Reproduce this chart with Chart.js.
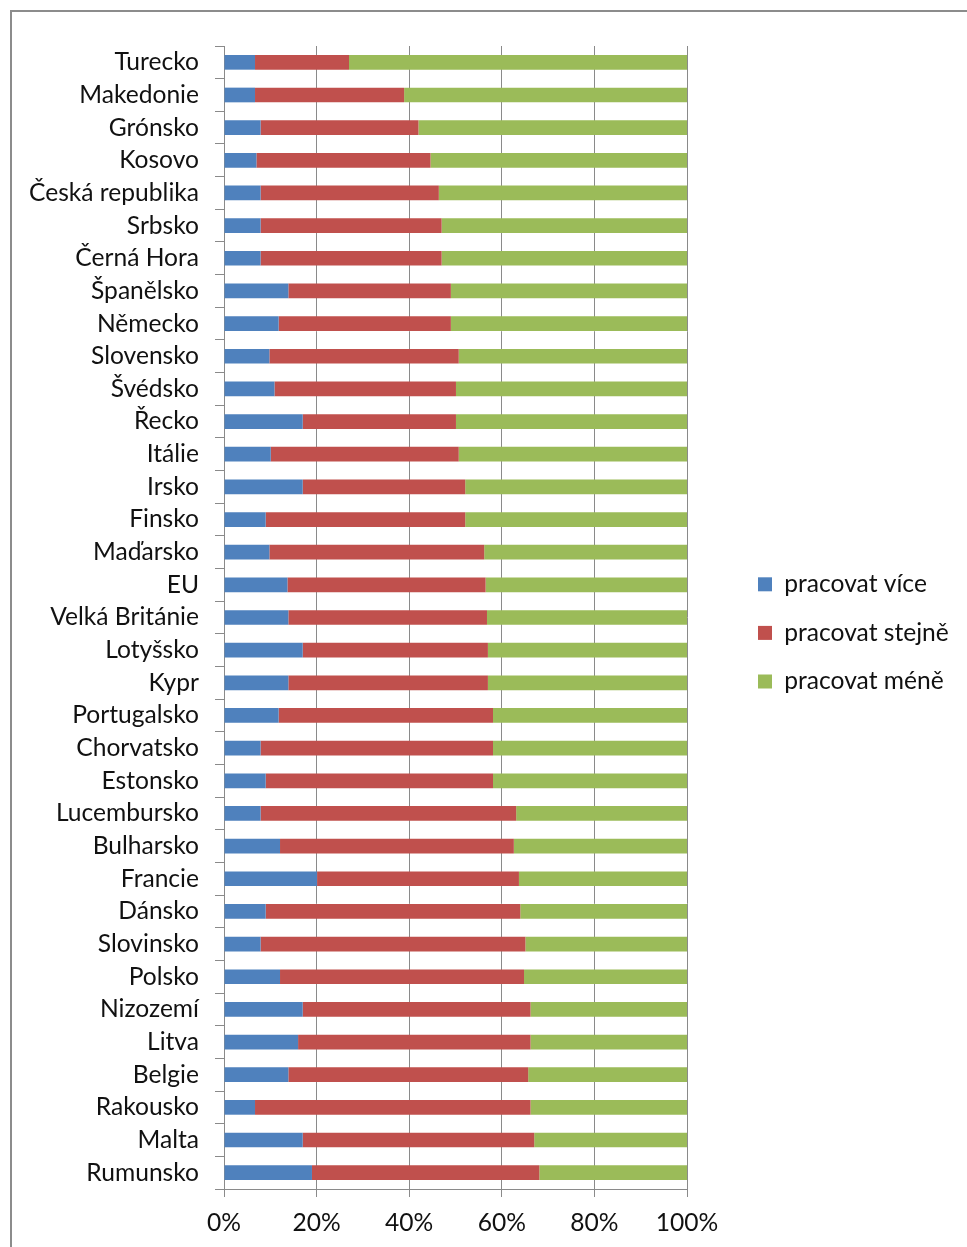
<!DOCTYPE html>
<html>
<head>
<meta charset="utf-8">
<script src="https://cdn.jsdelivr.net/npm/chart.js@4.4.1/dist/chart.umd.min.js"></script>
<style>
  html, body { margin: 0; padding: 0; background: #fff; overflow: hidden; }
  #frame { position: absolute; left: 10px; top: 10px; width: 1000px; height: 1300px; border: 2px solid #8c8c8c; box-sizing: border-box; }
  #wrap { position: absolute; left: 0; top: 0; width: 967px; height: 1247px; }
</style>
</head>
<body>
<div id="frame"></div>
<div id="wrap"><canvas id="c" width="967" height="1247"></canvas></div>
<script>
const categories = ["Turecko","Makedonie","Grónsko","Kosovo","Česká republika","Srbsko","Černá Hora","Španělsko","Německo","Slovensko","Švédsko","Řecko","Itálie","Irsko","Finsko","Maďarsko","EU","Velká Británie","Lotyšsko","Kypr","Portugalsko","Chorvatsko","Estonsko","Lucembursko","Bulharsko","Francie","Dánsko","Slovinsko","Polsko","Nizozemí","Litva","Belgie","Rakousko","Malta","Rumunsko"];
const seriesNames = ["pracovat více","pracovat stejně","pracovat méně"];
const moreValues = [6.7,6.7,7.9,7.0,7.9,7.9,7.9,13.9,11.8,9.8,10.9,17.0,10.1,17.0,9.0,9.8,13.7,13.9,17.0,13.9,11.8,7.9,9.0,7.9,12.1,20.1,9.0,7.9,12.1,17.0,16.0,13.9,6.7,17.0,19.0];
const sameValues = [20.3,32.2,34.1,37.6,38.5,39.1,39.1,35.1,37.2,40.9,39.2,33.1,40.6,35.1,43.1,46.4,42.8,42.9,40.0,43.1,46.3,50.2,49.1,55.2,50.5,43.6,55.0,57.2,52.7,49.2,50.2,51.8,59.5,50.0,49.1];
const lessValues = [73.0,61.1,58.0,55.4,53.6,53.0,53.0,51.0,51.0,49.3,49.9,49.9,49.3,47.9,47.9,43.8,43.5,43.2,43.0,43.0,41.9,41.9,41.9,36.9,37.4,36.3,36.0,34.9,35.2,33.8,33.8,34.3,33.8,33.0,31.9];
const xTickValues = [0,20,40,60,80,100];
const seriesColors = ["#4F81BD","#C0504D","#9BBB59"];

const FONT = "Lato, 'Open Sans', sans-serif";
const FSIZE = 24.6;

const legendPlacer = {
  id: 'legendPlacer',
  beforeLayout(chart) {
    const lg = chart.legend;
    if (lg && !lg._patched) {
      const orig = lg.fit.bind(lg);
      lg.fit = function() { orig(); if (!this.isHorizontal()) this.width = 280; };
      lg._patched = true;
    }
  },
  afterLayout(chart) {
    const lg = chart.legend;
    if (!lg) return;
    const pad = lg.options.labels.padding;
    const w = lg.width;
    lg.left = 758 - pad;
    lg.right = lg.left + w;
    lg.top = 548;
    lg.bottom = 1247;
  }
};

new Chart(document.getElementById('c'), {
  type: 'bar',
  data: {
    labels: categories,
    datasets: [
      { label: seriesNames[0], data: moreValues, backgroundColor: seriesColors[0] },
      { label: seriesNames[1], data: sameValues, backgroundColor: seriesColors[1] },
      { label: seriesNames[2], data: lessValues, backgroundColor: seriesColors[2] }
    ]
  },
  options: {
    indexAxis: 'y',
    responsive: false,
    animation: false,
    devicePixelRatio: 1,
    datasets: { bar: { barPercentage: 0.45, categoryPercentage: 1.0 } },
    layout: { padding: { top: 46, left: 0, right: 0, bottom: 0 } },
    scales: {
      x: {
        stacked: true,
        min: 0, max: 100,
        afterBuildTicks(scale) { scale.ticks = xTickValues.map(v => ({ value: v })); },
        afterFit(scale) { scale.height = 58; },
        ticks: {
          callback: v => v + '%',
          color: '#111',
          font: { family: FONT, size: FSIZE },
          padding: 11,
          maxRotation: 0
        },
        grid: { color: '#8a8a8a', lineWidth: 1, drawTicks: true, tickLength: 8, tickColor: '#8a8a8a' },
        border: { display: true, color: '#8a8a8a', width: 1 }
      },
      y: {
        stacked: true,
        afterFit(scale) { scale.width = 224; },
        ticks: {
          color: '#111',
          font: { family: FONT, size: FSIZE },
          padding: 16,
          autoSkip: false
        },
        grid: { drawOnChartArea: false, drawTicks: true, tickLength: 9, color: '#8a8a8a', offset: true },
        border: { display: true, color: '#8a8a8a', width: 1 }
      }
    },
    plugins: {
      legend: {
        position: 'right',
        align: 'start',
        labels: {
          boxWidth: 14, boxHeight: 14,
          padding: 24,
          color: '#111',
          font: { family: FONT, size: FSIZE, lineHeight: 1 }
        }
      },
      tooltip: { enabled: false }
    }
  },
  plugins: [legendPlacer]
});
</script>
</body>
</html>
